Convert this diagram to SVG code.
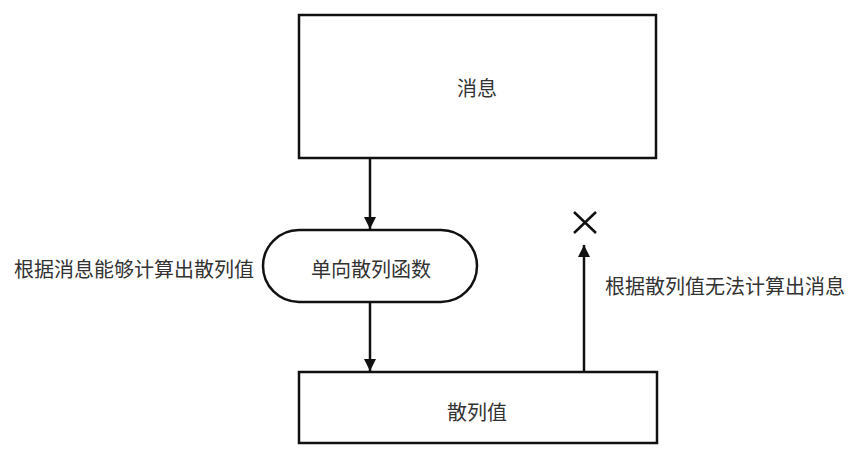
<svg xmlns="http://www.w3.org/2000/svg" width="851" height="456" viewBox="0 0 851 456">
<style>
.box{fill:#fff;stroke:#111;stroke-width:2.5}
.t{font-family:"Noto Sans CJK SC","Noto Sans",sans-serif;font-size:20px;fill:#333;dominant-baseline:central}
.c{text-anchor:middle}
.ln{stroke:#111;stroke-width:2.5;fill:none}
</style>
<defs>
<marker id="ah" viewBox="0 0 10 10" refX="10" refY="5" markerWidth="12" markerHeight="20" markerUnits="userSpaceOnUse" orient="auto">
<path d="M0,0 L10,5 L0,10 Z" fill="#111"/>
</marker>
</defs>
<rect width="851" height="456" fill="#fff"/>
<g id="connectors">
<line class="ln" x1="370" y1="158" x2="370" y2="229" marker-end="url(#ah)"/>
<line class="ln" x1="370" y1="302" x2="370" y2="371" marker-end="url(#ah)"/>
<line class="ln" x1="584" y1="372" x2="584" y2="245" marker-end="url(#ah)"/>
<path class="ln" d="M574,212 L596,233 M596,212 L574,233" stroke-width="2"/>
</g>
<g id="message">
<rect class="box" x="299" y="15" width="357" height="143"/>
<text class="t c" x="477" y="87">消息</text>
</g>
<g id="hashfn">
<rect class="box" x="263" y="230" width="214" height="72" rx="36" ry="36"/>
<text class="t c" x="371" y="268">单向散列函数</text>
</g>
<g id="hashvalue">
<rect class="box" x="299" y="372" width="358" height="71"/>
<text class="t c" x="477" y="411">散列值</text>
</g>
<g id="labels">
<text class="t" x="14" y="268">根据消息能够计算出散列值</text>
<text class="t" x="605" y="285">根据散列值无法计算出消息</text>
</g>
</svg>
